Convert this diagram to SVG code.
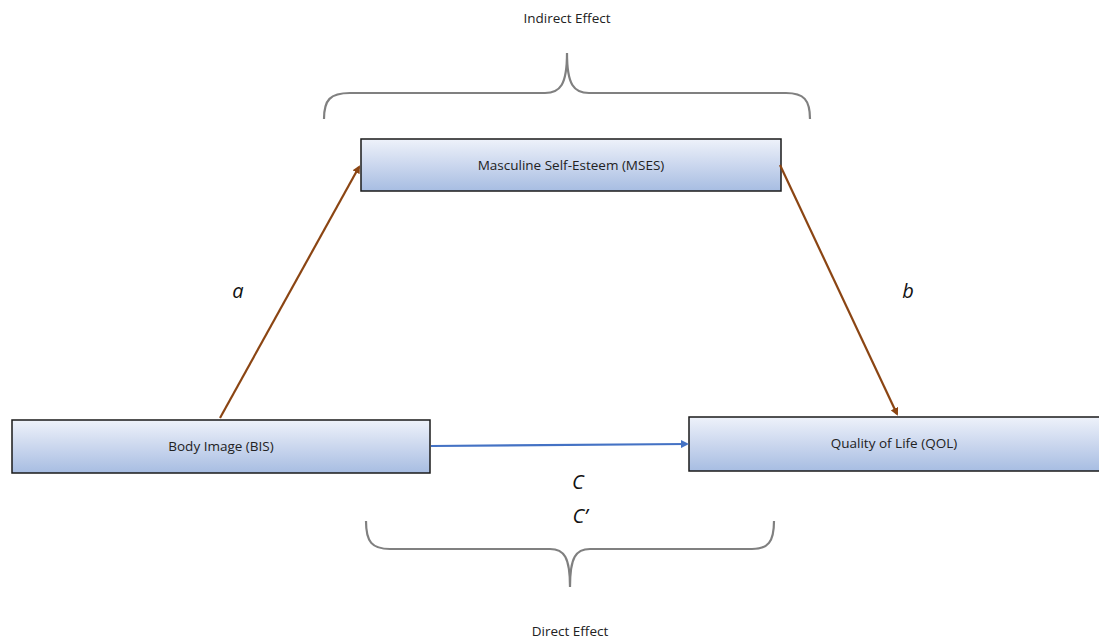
<svg xmlns="http://www.w3.org/2000/svg" width="1099" height="641" viewBox="0 0 1099 641">
<style>
.box{fill:url(#g);stroke:#1a1a1a;stroke-width:1.5}
.lbl{font-family:"Open Sans","Liberation Sans",sans-serif;font-size:13.5px;fill:#222;text-anchor:middle}
.it{font-family:"Open Sans","Liberation Sans",sans-serif;font-size:20px;font-style:italic;fill:#111;text-anchor:middle}
.brace{fill:none;stroke:#808080;stroke-width:2.2}
.brown{stroke:#8b4513;stroke-width:2.2;fill:none}
.blue{stroke:#4472c4;stroke-width:2.2;fill:none}
</style>
<defs>
<linearGradient id="g" x1="0" y1="0" x2="0" y2="1">
<stop offset="0" stop-color="#eef2fa"/>
<stop offset="0.5" stop-color="#cbd7ee"/>
<stop offset="1" stop-color="#a7bde2"/>
</linearGradient>
<marker id="ab" markerWidth="8" markerHeight="8" refX="6" refY="4" orient="auto" markerUnits="userSpaceOnUse"><path d="M0,0 L8,4 L0,8 z" fill="#8b4513"/></marker>
<marker id="al" markerWidth="8" markerHeight="8" refX="6" refY="4" orient="auto" markerUnits="userSpaceOnUse"><path d="M0,0 L8,4 L0,8 z" fill="#4472c4"/></marker>
</defs>
<rect width="1099" height="641" fill="#fff"/>
<text class="lbl" x="567" y="23">Indirect Effect</text>
<text class="lbl" x="570" y="636">Direct Effect</text>
<path class="brace" d="M324,119 C324,100 330,93 350,93 L545,93 C560,93 567,85 567,53 C567,85 574,93 589,93 L786,93 C804,93 810,100 810,119"/>
<path class="brace" d="M366,521 C366,542 372,549 390,549 L550,549 C564,549 570,557 570,587 C570,557 576,549 590,549 L752,549 C768,549 774,542 774,521"/>
<g id="mses"><rect class="box" x="361" y="139" width="420" height="52"/><text class="lbl" x="571" y="170">Masculine Self-Esteem (MSES)</text></g>
<g id="bis"><rect class="box" x="12" y="420" width="418" height="53"/><text class="lbl" x="221" y="451">Body Image (BIS)</text></g>
<g id="qol"><rect class="box" x="689" y="417" width="412" height="54"/><text class="lbl" x="894" y="448">Quality of Life (QOL)</text></g>
<g id="connectors">
<line class="brown" x1="220" y1="418" x2="359" y2="167" marker-end="url(#ab)"/>
<line class="brown" x1="780" y1="165" x2="897" y2="414" marker-end="url(#ab)"/>
<line class="blue" x1="431" y1="446" x2="687" y2="444" marker-end="url(#al)"/>
</g>
<text class="it" x="238" y="298">a</text>
<text class="it" x="908" y="298">b</text>
<text class="it" x="578" y="489">C</text>
<text class="it" x="580" y="523">C’</text>
</svg>
